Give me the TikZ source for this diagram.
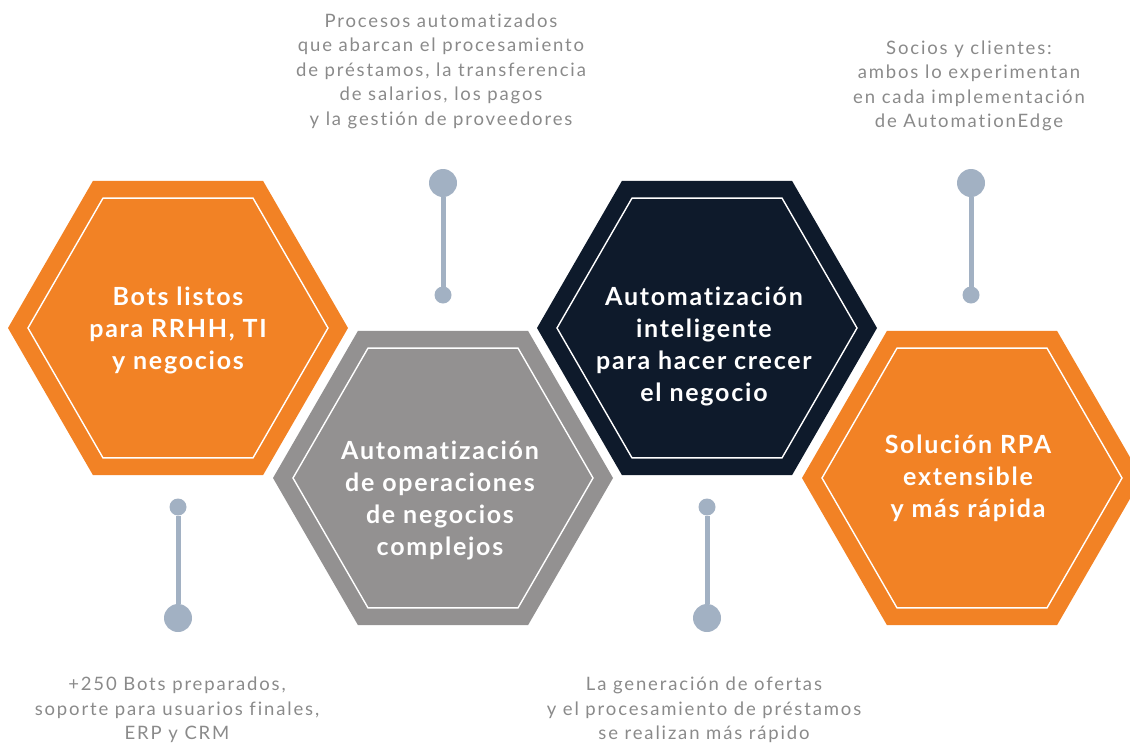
\documentclass[tikz,border=0pt]{standalone}
\usepackage{fontspec}
\setmainfont{Lato}
\newfontfamily\descfont[LetterSpace=10,Ligatures=CommonOff]{Lato}
\newfontfamily\hexfont[LetterSpace=7,Ligatures=CommonOff]{Lato}
\usetikzlibrary{shapes.geometric}
\definecolor{hexorange}{RGB}{242,130,37}
\definecolor{hexgray}{RGB}{147,145,145}
\definecolor{hexnavy}{RGB}{14,26,43}
\definecolor{pincol}{RGB}{162,177,195}
\definecolor{txtgray}{RGB}{138,138,138}
\tikzset{
  hexouter/.style={shape=regular polygon, regular polygon sides=6, minimum size=340pt, inner sep=0pt, outer sep=0pt, draw=none},
  hexinner/.style={shape=regular polygon, regular polygon sides=6, minimum size=300pt, inner sep=0pt, outer sep=0pt, draw=white, line width=1.4pt},
  hextext/.style={text=white, align=center, font=\hexfont\fontsize{25}{32}\selectfont\bfseries},
  desc/.style={text=txtgray, align=center, font=\descfont\fontsize{18.5}{24.5}\selectfont},
  pinbig/.style={circle, fill=pincol, minimum size=28pt, inner sep=0pt, outer sep=0pt},
  pinsmall/.style={circle, fill=pincol, minimum size=17pt, inner sep=0pt, outer sep=0pt},
  pinline/.style={draw=pincol, line width=5pt}
}
\begin{document}
\begin{tikzpicture}[x=1pt,y=-1pt]
\useasboundingbox (0,0) rectangle (1130,742);
\clip (0,0) rectangle (1130,742);
% hexagons
\node[hexouter, fill=hexorange] (h1) at (178,328) {};
\node[hexinner] (h1i) at (178,328) {};
\node[hexouter, fill=hexgray] (h2) at (443,478) {};
\node[hexinner] (h2i) at (443,478) {};
\node[hexouter, fill=hexnavy] (h3) at (707,328) {};
\node[hexinner] (h3i) at (707,328) {};
\node[hexouter, fill=hexorange] (h4) at (972,478) {};
\node[hexinner] (h4i) at (972,478) {};
% hexagon texts
\node[hextext] (t1) at (178,330) {Bots listos\\para RRHH, TI\\y negocios};
\node[hextext] (t2) at (440,500) {Automatización\\de operaciones\\de negocios\\complejos};
\node[hextext] (t3) at (704,346) {Automatización\\inteligente\\para hacer crecer\\el negocio};
\node[hextext] (t4) at (968,478) {Solución RPA\\extensible\\y más rápida};
% pins
\node[pinbig] (p1a) at (443,183) {};
\node[pinsmall] (p1b) at (443,295) {};
\draw[pinline] (p1a) -- (p1b);
\node[pinbig] (p2a) at (971,183) {};
\node[pinsmall] (p2b) at (971,295) {};
\draw[pinline] (p2a) -- (p2b);
\node[pinsmall] (p3b) at (178,507) {};
\node[pinbig] (p3a) at (178,618) {};
\draw[pinline] (p3b) -- (p3a);
\node[pinsmall] (p4b) at (707,507) {};
\node[pinbig] (p4a) at (707,618) {};
\draw[pinline] (p4b) -- (p4a);
% descriptions
\node[desc] (d1) at (441,71) {Procesos automatizados\\que abarcan el procesamiento\\de préstamos, la transferencia\\de salarios, los pagos\\y la gestión de proveedores};
\node[desc] (d2) at (969,86) {Socios y clientes:\\ambos lo experimentan\\en cada implementación\\de AutomationEdge};
\node[desc] (d3) at (177,710) {+250 Bots preparados,\\soporte para usuarios finales,\\ERP y CRM};
\node[desc] (d4) at (704,710) {La generación de ofertas\\y el procesamiento de préstamos\\se realizan más rápido};
\end{tikzpicture}
\end{document}
